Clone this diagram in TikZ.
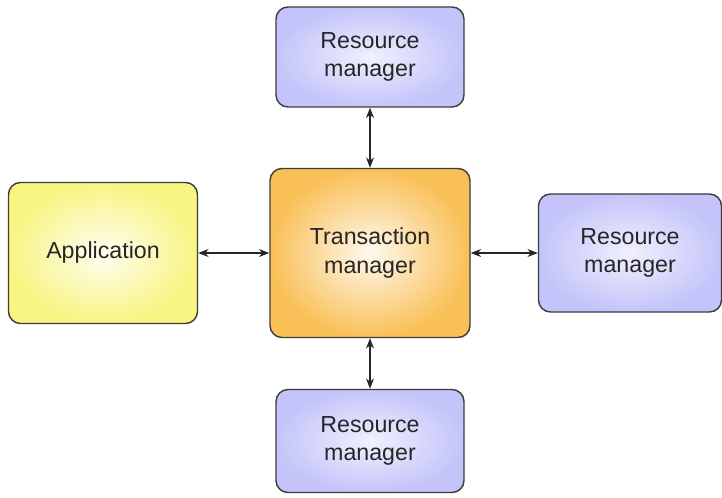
\documentclass[tikz,border=0pt]{standalone}
\usepackage{fontspec}
\setmainfont{Liberation Sans}
\usetikzlibrary{positioning, arrows.meta}
\definecolor{rmcol}{RGB}{196,196,250}
\definecolor{appcol}{RGB}{248,244,130}
\definecolor{tmcol}{RGB}{249,192,88}
\definecolor{edgecol}{RGB}{60,60,60}

\begin{document}
\begin{tikzpicture}[
			node distance=5cm,
			on grid,
			box/.style={
				draw=edgecol,
				line width=1pt,
				rounded corners=0.3cm,
				align=center,
				font=\fontsize{16.5}{20.5}\selectfont,
				text=black!85,
				shading=radial
			},
			resmgr/.style={
				box,
				inner color=rmcol!25,
				outer color=rmcol,
				minimum width=4.7cm,
				minimum height=2.5cm
			},
			link/.style={
				{Stealth[length=2.6mm,width=2mm]}-{Stealth[length=2.6mm,width=2mm]},
				draw=black!85,
				line width=0.8pt
			}
			]
			\useasboundingbox (0,0) rectangle (18.05,-12.45);
			% Boxes
			\node[box, inner color=tmcol!10, outer color=tmcol,
				minimum width=5cm, minimum height=4.225cm] (tm) at (9.25,-6.325) {Transaction\\manager};
			\node[box, inner color=appcol!10, outer color=appcol,
				minimum width=4.725cm, minimum height=3.525cm] (app) [left=6.675cm of tm] {Application};
			\node[resmgr] (rmtop) [above=4.9cm of tm] {Resource\\manager};
			\node[resmgr, minimum width=4.575cm, minimum height=2.95cm] (rmright) [right=6.5cm of tm] {Resource\\manager};
			\node[resmgr, minimum height=2.575cm] (rmbottom) [below=4.7cm of tm] {Resource\\manager};
			
			% Connections
			\draw[link] (app) -- (tm);
			\draw[link] (tm) -- (rmright);
			\draw[link] (tm) -- (rmtop);
			\draw[link] (tm) -- (rmbottom);
		\end{tikzpicture}
\end{document}
